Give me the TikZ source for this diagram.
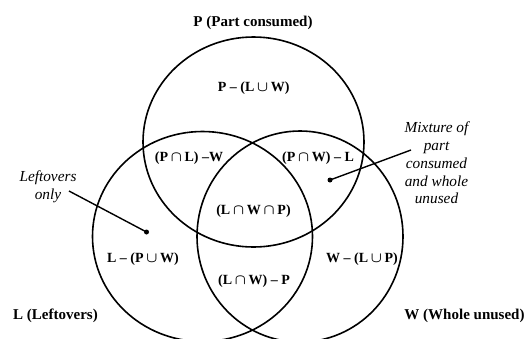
\documentclass[tikz,border=0pt]{standalone}
\usepackage{fontspec}
\setmainfont{Liberation Serif}
\newcommand{\labfont}{\fontsize{14}{16}\selectfont\bfseries\boldmath}
\newcommand{\namefont}{\fontsize{15}{17}\selectfont\bfseries}
\newcommand{\itfont}{\fontsize{15.3}{17.7}\selectfont\itshape}
\begin{document}
\begin{tikzpicture}[x=1pt,y=-1pt,
  venn/.style={line width=1.6pt},
  lab/.style={font=\labfont, inner sep=0pt},
  setname/.style={font=\namefont, inner sep=0pt},
  ital/.style={font=\itfont, inner sep=0pt, align=center},
  lead/.style={line width=1.4pt},
  dotnode/.style={circle, fill=black, inner sep=0pt, minimum size=5pt}]
\useasboundingbox (0,0) rectangle (527,338);
\clip (0,0) rectangle (527,338);
% circles
\draw[venn] (253.5,142) ellipse [x radius=110.5, y radius=105];
\draw[venn] (202.5,236.5) ellipse [x radius=110, y radius=105];
\draw[venn] (300,236.5) ellipse [x radius=103, y radius=105.5];
% set names
\node[setname] (pname) at (253,23) {P (Part consumed)};
\node[setname] (lname) at (55.5,316) {L (Leftovers)};
\node[setname] (wname) at (464.5,316) {W (Whole unused)};
% regions
\node[lab] (ponly) at (253.7,88) {P -- (L$\,\cup\,$W)};
\node[lab] (pl) at (189,158) {(P$\,\cap\,$L) --W};
\node[lab] (pw) at (318,158) {(P$\,\cap\,$W) -- L};
\node[lab] (lwp) at (253.5,211) {(L$\,\cap\,$W$\,\cap\,$P)};
\node[lab] (lonly) at (143,259) {L -- (P$\,\cup\,$W)};
\node[lab] (lw) at (254,281) {(L$\,\cap\,$W) -- P};
\node[lab] (wonly) at (362,259) {W -- (L$\,\cup\,$P)};
% callouts
\node[ital] (leftnote) at (48,187) {Leftovers\\only};
\node[ital] (mixnote) at (436.5,163) {Mixture of\\part\\consumed\\and whole\\unused};
\node[dotnode] (d1) at (146.5,232) {};
\node[dotnode] (d2) at (330,180) {};
\coordinate (s1) at (69,191);
\coordinate (s2) at (411,150);
\draw[lead] (s1) -- (d1.center);
\draw[lead] (s2) -- (d2.center);
\end{tikzpicture}
\end{document}
